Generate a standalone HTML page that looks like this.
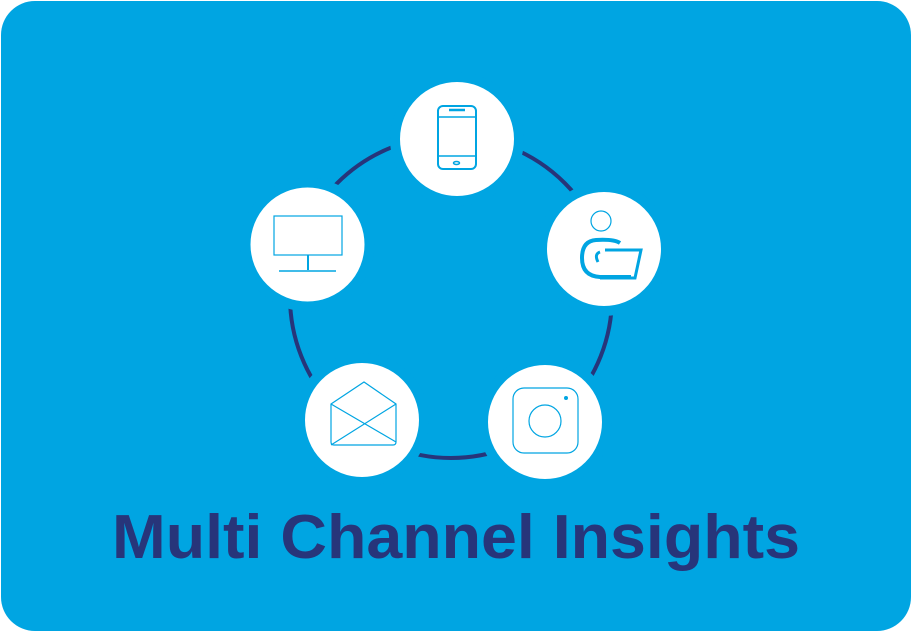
<!DOCTYPE html>
<html><head><style>
body{margin:0;background:#fff;}
svg{display:block}
</style></head><body>
<svg width="912" height="632" viewBox="0 0 912 632" xmlns="http://www.w3.org/2000/svg">
<rect x="1" y="1" width="910" height="630" rx="34" fill="#00a5e2"/>
<circle cx="451" cy="297" r="161" fill="none" stroke="#27357a" stroke-width="4"/>
<g fill="#fff" stroke="#00a5e2" stroke-width="10">
<circle cx="457" cy="139" r="62"/>
<circle cx="307.5" cy="244.5" r="62"/>
<circle cx="604" cy="249" r="62"/>
<circle cx="362" cy="420" r="62"/>
<circle cx="545" cy="422" r="62"/>
</g>
<g fill="none" stroke="#00a5e2">
<rect x="438" y="106" width="38" height="63" rx="5" stroke-width="2"/>
<line x1="439" y1="156" x2="475" y2="156" stroke-width="1.5"/>
<line x1="439" y1="117" x2="475" y2="117" stroke-width="1.5"/>
<line x1="449" y1="110" x2="465" y2="110" stroke-width="2.5"/>
<ellipse cx="456.5" cy="163" rx="3" ry="1.5" stroke-width="1.5"/>
<rect x="274" y="216" width="68" height="39" stroke-width="1.2"/>
<line x1="308" y1="255" x2="308" y2="270" stroke-width="2"/>
<line x1="279" y1="271" x2="336" y2="271" stroke-width="1.5"/>
<circle cx="601" cy="221" r="10" stroke-width="1.2"/>
<path d="M620 243 Q614 239 596 240 Q582 241 582 258 Q582 276 600 277 L631 277" stroke-width="4"/>
<path d="M598 262 Q594 254 600 252" stroke-width="3"/>
<path d="M605 250 L641 250 L635 278 L600 278" stroke-width="3"/>
<path d="M331 404 L364 382 L396 404 L396 442 Q396 445 393 445 L334 445 Q331 445 331 442 Z" stroke-width="1.2"/>
<path d="M331 404 L396 442 M396 404 L331 445" stroke-width="1.2"/>
<rect x="513" y="388" width="65" height="65" rx="11" stroke-width="1.2"/>
<circle cx="545" cy="421" r="16" stroke-width="1.2"/>
<circle cx="566" cy="398" r="2" fill="#00a5e2" stroke="none"/>
</g>
<text x="112" y="558" textLength="688" lengthAdjust="spacingAndGlyphs" font-family="Liberation Sans, sans-serif" font-weight="bold" font-size="62" fill="#27357a">Multi Channel Insights</text>
</svg>
</body></html>
